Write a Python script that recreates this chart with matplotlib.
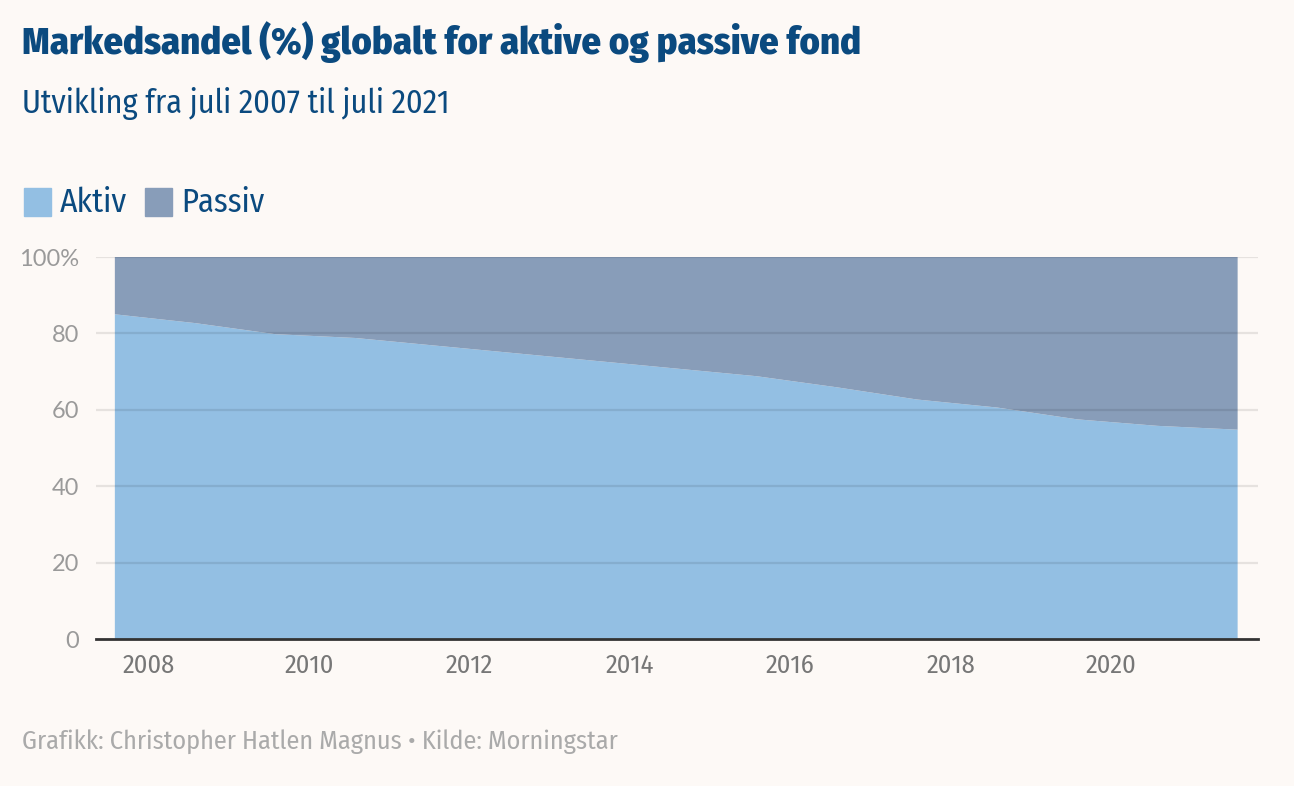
"""
Markedsandel for aktive og passive fond, juli 2007 - juli 2021
"""

import numpy as np
import matplotlib.pyplot as plt

# Data (July each year)
years = [2007.58, 2008.58, 2009.58, 2010.58, 2011.58, 2012.58, 2013.58,
         2014.58, 2015.58, 2016.58, 2017.58, 2018.58, 2019.58, 2020.58, 2021.58]
aktiv = [85.0, 82.7, 79.8, 78.8, 76.8, 74.8, 72.8,
         70.8, 68.8, 65.9, 62.7, 60.6, 57.5, 55.8, 54.8]
passiv = [100 - a for a in aktiv]

xticks = [2008, 2010, 2012, 2014, 2016, 2018, 2020]
yticks = [0, 20, 40, 60, 80, 100]
ylabels = ["0", "20", "40", "60", "80", "100%"]

bg = "#fdf9f6"
blue_dark = "#0b4a7f"
c_aktiv = "#93bfe3"
c_passiv = "#889db9"
grey = "#9a9a9a"
narrow = ["Fira Sans Condensed", "DejaVu Sans"]
geo = ["Lato", "DejaVu Sans"]

fig = plt.figure(figsize=(12.94, 7.86), dpi=100, facecolor=bg)
ax = fig.add_axes([96 / 1294, 1 - 639 / 786, (1258 - 96) / 1294, (639 - 257) / 786])
ax.set_facecolor(bg)

ax.stackplot(years, aktiv, passiv, colors=[c_aktiv, c_passiv], linewidth=0, zorder=2)

ax.set_xlim(2007.345, 2021.834)
ax.set_ylim(0, 100)

# grid drawn over the areas
for y in yticks[1:]:
    ax.axhline(y, color="black", alpha=0.09, lw=1.6, zorder=3)

for s in ["top", "right", "left"]:
    ax.spines[s].set_visible(False)
ax.spines["bottom"].set_color("#333333")
ax.spines["bottom"].set_linewidth(2)
ax.spines["bottom"].set_zorder(4)

ax.set_xticks(xticks)
ax.set_xticklabels([str(x) for x in xticks], fontsize=19, color="#777777", family=narrow)
ax.set_yticks(yticks)
ax.set_yticklabels(ylabels, fontsize=17, color=grey, family=geo)
ax.tick_params(axis="both", length=0)
ax.tick_params(axis="y", pad=12)
ax.tick_params(axis="x", pad=10)

# titles
fig.text(22 / 1294, 1 - 42 / 786, "Markedsandel (%) globalt for aktive og passive fond",
         fontsize=27.7, fontweight="heavy", color=blue_dark, family=narrow, va="center")
fig.text(22 / 1294, 1 - 103 / 786, "Utvikling fra juli 2007 til juli 2021",
         fontsize=23.3, fontweight="normal", color=blue_dark, family=narrow, va="center")

# legend
fig.patches.append(plt.Rectangle((24 / 1294, 1 - 216 / 786), 27 / 1294, 28 / 786,
                                 transform=fig.transFigure, color=c_aktiv))
fig.text(60 / 1294, 1 - 203 / 786, "Aktiv", fontsize=24, color=blue_dark, family=narrow, va="center")
fig.patches.append(plt.Rectangle((145 / 1294, 1 - 216 / 786), 27 / 1294, 28 / 786,
                                 transform=fig.transFigure, color=c_passiv))
fig.text(181 / 1294, 1 - 203 / 786, "Passiv", fontsize=23.5, color=blue_dark, family=narrow, va="center")

# footer
fig.text(22 / 1294, 1 - 742 / 786, "Grafikk: Christopher Hatlen Magnus \u2022 Kilde: Morningstar",
         fontsize=18.9, fontweight="normal", color="#aaaaaa", family=narrow, va="center")

fig.savefig("out.png", dpi=100, facecolor=bg)
